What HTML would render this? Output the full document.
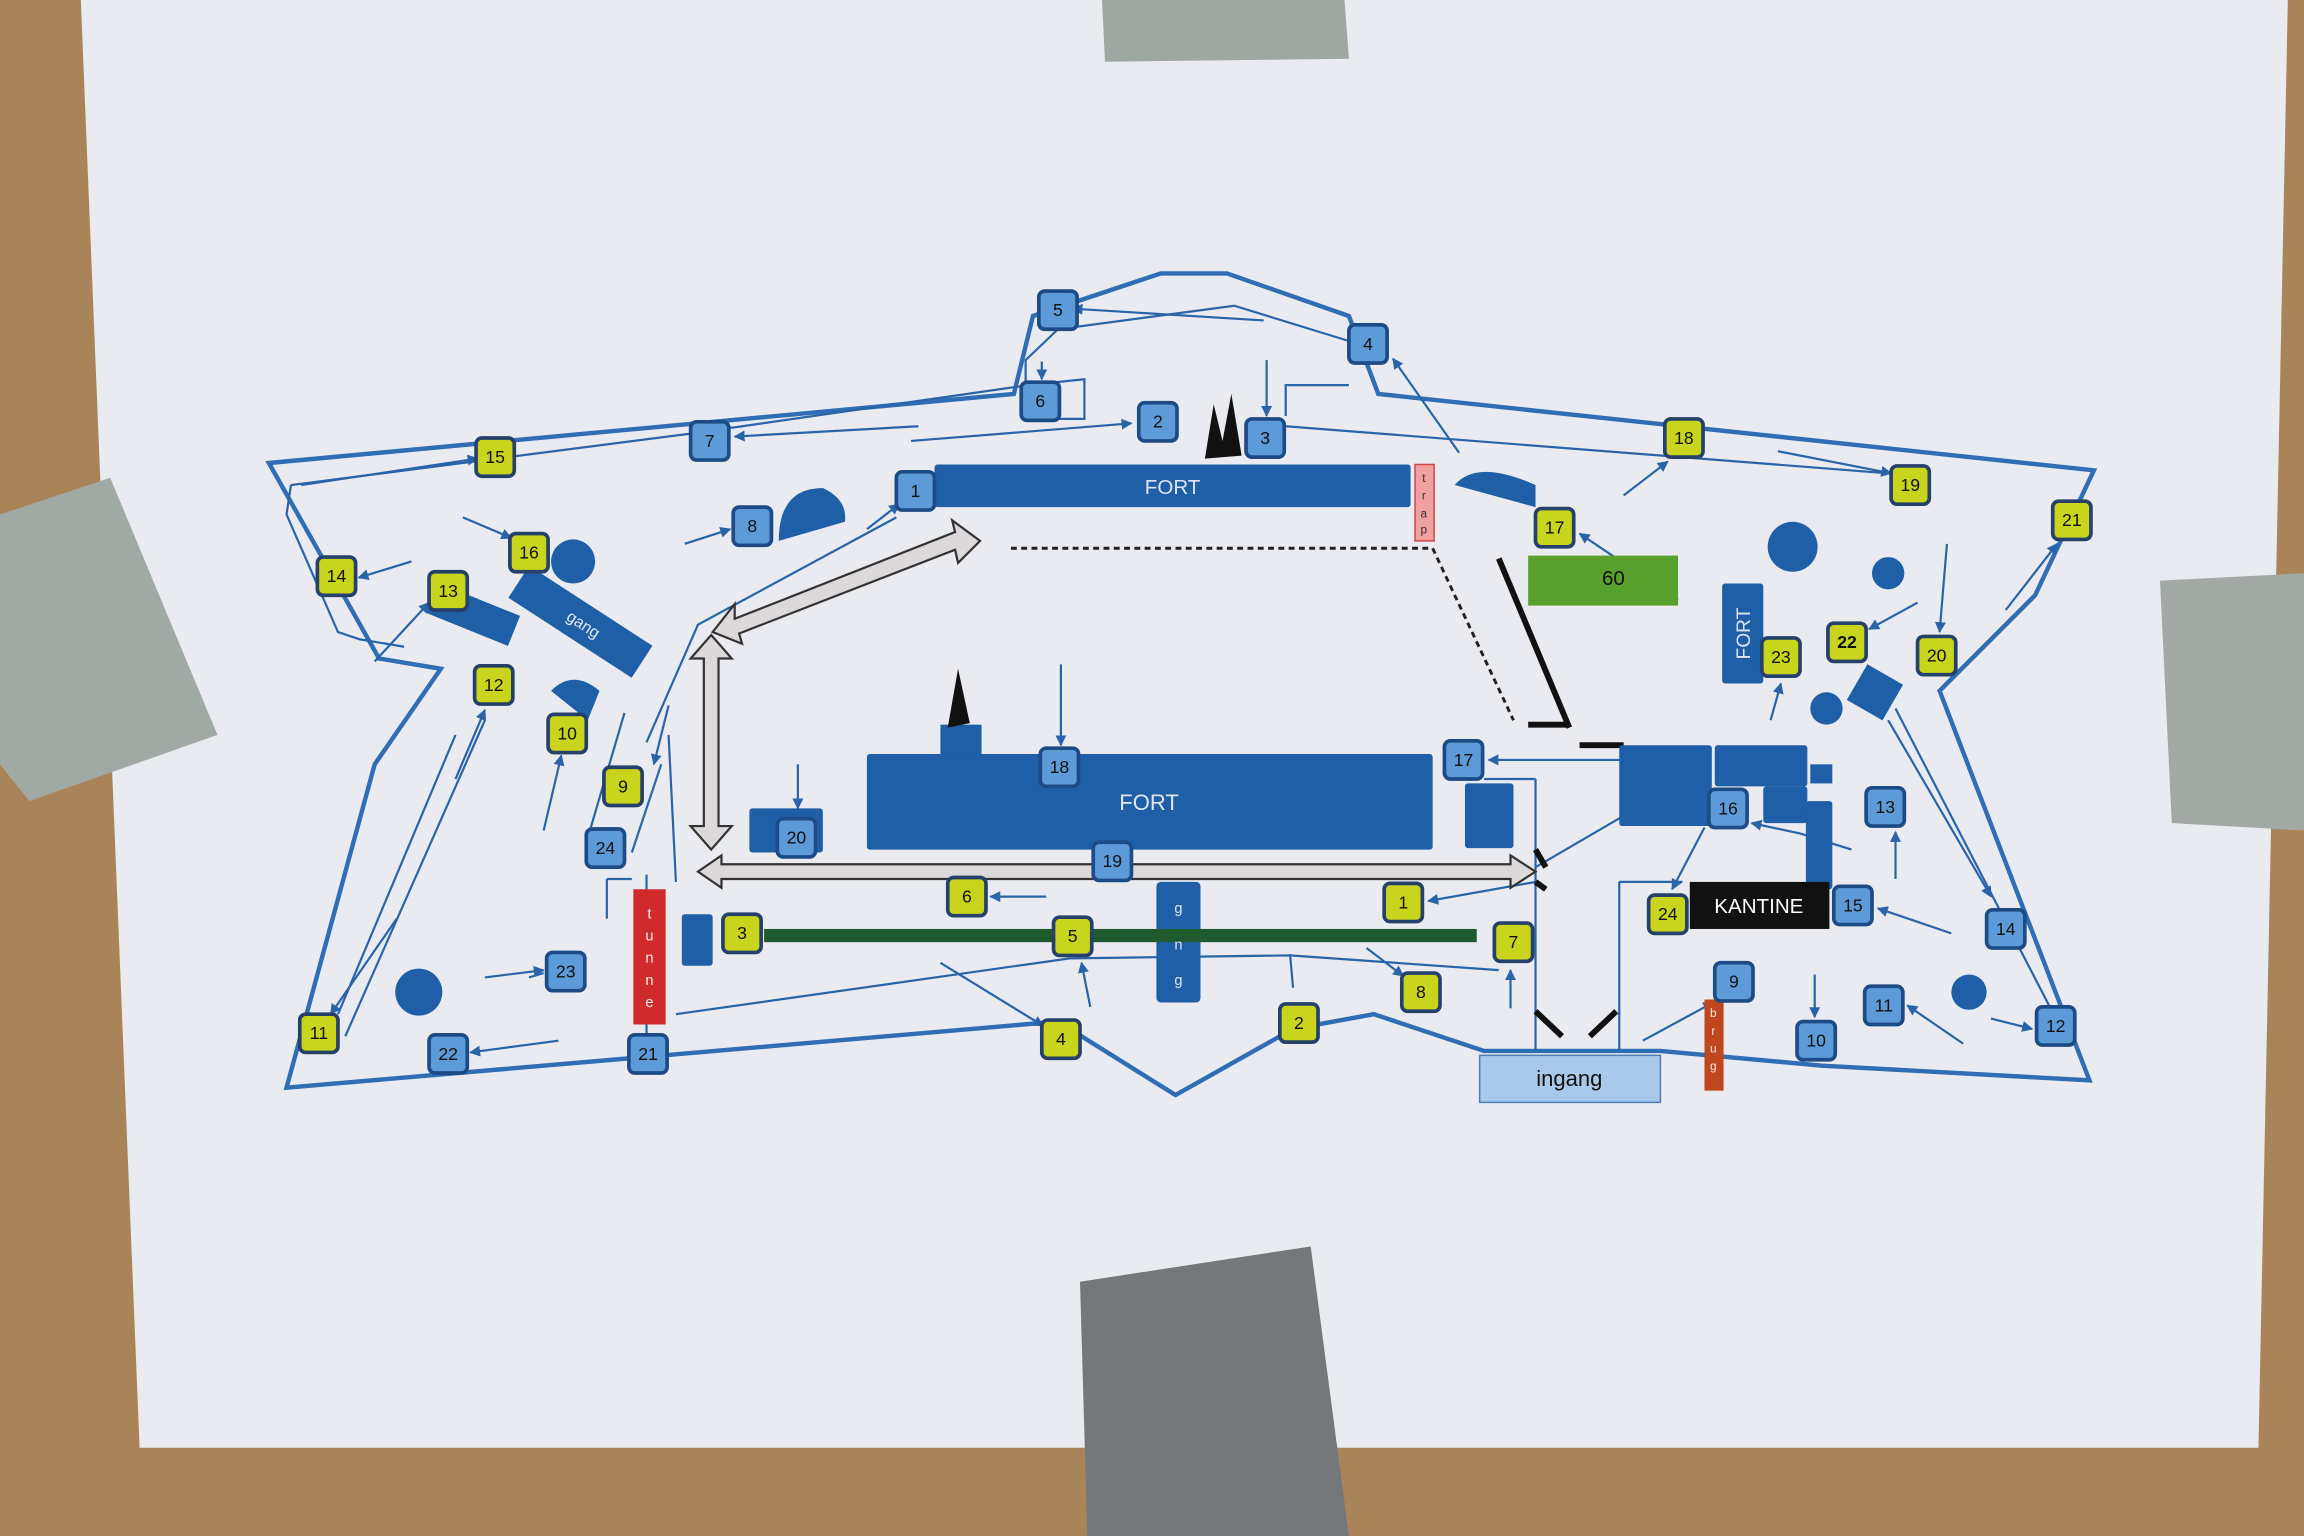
<!DOCTYPE html>
<html><head><meta charset="utf-8"><style>html,body{margin:0;padding:0;background:#a98458;}svg{display:block}</style></head>
<body>
<svg width="2304" height="1536" viewBox="0 0 1568 1045" preserveAspectRatio="none" xmlns="http://www.w3.org/2000/svg" font-family="Liberation Sans, sans-serif">
<defs>
<marker id="ah" viewBox="0 0 10 10" refX="9" refY="5" markerWidth="5" markerHeight="5" orient="auto"><path d="M0,0L10,5L0,10z" fill="#2a64a8"/></marker>
</defs>
<rect width="1568" height="1045" fill="#a98458"/>
<polygon points="55,0 1557,0 1537,985 95,985" fill="#e9ebf0"/>
<!-- tapes -->
<polygon points="750,0 915,0 918,40 752,42" fill="#9fa7a3"/>
<polygon points="0,350 75,325 148,500 20,545 0,520" fill="#a1a9a5"/>
<polygon points="1470,395 1568,390 1568,565 1478,560" fill="#a3aaa6"/>
<polygon points="735,872 892,848 918,1045 740,1045" fill="#74787a"/>
<!-- outline -->
<path d="M183,315 L690,268 L703,215 L790,186 L835,186 L918,215 L938,268 L1425,320 L1385,405 L1320,470 L1422,735 L1240,725 L1130,715 L1010,715 L935,690 L880,700 L800,745 L720,695 L195,740 L255,520 L300,455 L258,448 Z" fill="none" stroke="#2f6db5" stroke-width="3"/>
<!-- thin route lines -->
<g stroke="#2a64a8" stroke-width="1.5" fill="none">
<path d="M198,330 L470,295 L700,262 L738,258 L738,285 L698,285 L698,245 L720,224 L840,208 L918,232"/>
<path d="M860,218 L730,210" marker-end="url(#ah)"/>
<path d="M625,290 L500,297" marker-end="url(#ah)"/>
<path d="M620,300 L770,288" marker-end="url(#ah)"/>
<path d="M862,245 L862,283" marker-end="url(#ah)"/>
<path d="M709,246 L709,258" marker-end="url(#ah)"/>
<path d="M875,283 L875,262 L918,262"/>
<path d="M875,290 L1285,322"/>
<path d="M993,308 L948,244" marker-end="url(#ah)"/>
<path d="M1105,337 L1135,314" marker-end="url(#ah)"/>
<path d="M1210,307 L1287,322" marker-end="url(#ah)"/>
<path d="M1365,415 L1400,370" marker-end="url(#ah)"/>
<path d="M1142,408 L1075,363" marker-end="url(#ah)"/>
<path d="M198,330 L195,350 L230,430 L245,435 L275,440"/>
<path d="M205,330 L325,312" marker-end="url(#ah)"/>
<path d="M315,352 L348,366" marker-end="url(#ah)"/>
<path d="M280,382 L244,393" marker-end="url(#ah)"/>
<path d="M255,450 L292,410" marker-end="url(#ah)"/>
<path d="M466,370 L497,360" marker-end="url(#ah)"/>
<path d="M590,360 L612,343" marker-end="url(#ah)"/>
<path d="M610,352 L475,425 L440,505"/>
<path d="M310,530 L330,483" marker-end="url(#ah)"/>
<path d="M370,565 L382,514" marker-end="url(#ah)"/>
<path d="M425,485 L400,570"/>
<path d="M455,480 L445,520" marker-end="url(#ah)"/>
<path d="M455,500 L460,600"/>
<path d="M430,580 L450,520"/>
<path d="M413,598 L413,625 M413,598 L430,598"/>
<path d="M270,625 L225,690" marker-end="url(#ah)"/>
<path d="M230,690 L310,500 M235,705 L330,490"/>
<path d="M360,665 L370,662 M330,665 L370,660" marker-end="url(#ah)"/>
<path d="M380,708 L320,716" marker-end="url(#ah)"/>
<path d="M440,595 L440,705"/>
<path d="M543,520 L543,550" marker-end="url(#ah)"/>
<path d="M722,452 L722,507" marker-end="url(#ah)"/>
<path d="M712,610 L674,610" marker-end="url(#ah)"/>
<path d="M640,655 L710,698" marker-end="url(#ah)"/>
<path d="M742,685 L736,655" marker-end="url(#ah)"/>
<path d="M460,690 L728,652 L878,650 L880,672 M878,650 L1020,660"/>
<path d="M930,645 L955,664" marker-end="url(#ah)"/>
<path d="M1028,686 L1028,660" marker-end="url(#ah)"/>
<path d="M1045,600 L972,613" marker-end="url(#ah)"/>
<path d="M1045,530 L1045,715 M1045,530 L1010,530"/>
<path d="M1105,517 L1013,517" marker-end="url(#ah)"/>
<path d="M1105,555 L1045,590"/>
<path d="M1102,600 L1102,715 M1102,600 L1145,600"/>
<path d="M1160,563 L1138,605" marker-end="url(#ah)"/>
<path d="M1118,708 L1166,682" marker-end="url(#ah)"/>
<path d="M1225,567 L1192,560" marker-end="url(#ah)"/>
<path d="M1260,578 L1225,567"/>
<path d="M1290,598 L1290,566" marker-end="url(#ah)"/>
<path d="M1328,635 L1278,618" marker-end="url(#ah)"/>
<path d="M1235,663 L1235,692" marker-end="url(#ah)"/>
<path d="M1336,710 L1298,684" marker-end="url(#ah)"/>
<path d="M1355,693 L1383,700" marker-end="url(#ah)"/>
<path d="M1285,490 L1355,610" marker-end="url(#ah)"/>
<path d="M1290,482 L1395,685"/>
<path d="M1305,410 L1272,428" marker-end="url(#ah)"/>
<path d="M1325,370 L1320,430" marker-end="url(#ah)"/>
<path d="M1205,490 L1212,465" marker-end="url(#ah)"/>
</g>
<!-- dashed -->
<path d="M688,373 L975,373 L1030,490" fill="none" stroke="#222" stroke-width="2" stroke-dasharray="4,3"/>
<!-- black walls -->
<g stroke="#111" stroke-width="4" fill="none">
<path d="M1020,380 L1068,495"/><path d="M1040,493 L1068,493"/><path d="M1075,507 L1105,507"/>
<path d="M1045,578 L1052,590 M1045,600 L1052,605"/>
<path d="M1045,688 L1063,705"/><path d="M1100,688 L1082,705"/>
</g>
<!-- grey double arrows -->
<g fill="#ddd8da" stroke="#333" stroke-width="1.5">
<polygon points="485,430 500,411 500,421 650,362 648,354 667,368 652,383 650,374 503,431 505,438"/>
<polygon points="484,432 498,448 489,448 489,562 498,562 484,578 470,562 479,562 479,448 470,448"/>
<polygon points="475,593 491,582 491,588 1028,588 1028,582 1045,593 1028,604 1028,598 491,598 491,604"/>
</g>
<!-- buildings -->
<g fill="#1e5fa8">
<rect x="636" y="316" width="324" height="29" rx="2"/>
<rect x="590" y="513" width="385" height="65" rx="2"/>
<rect x="997" y="533" width="33" height="44" rx="2"/>
<rect x="1102" y="507" width="63" height="55" rx="2"/>
<rect x="1167" y="507" width="63" height="28" rx="2"/>
<rect x="1200" y="535" width="30" height="25" rx="2"/>
<rect x="1232" y="520" width="15" height="13"/>
<rect x="1229" y="545" width="18" height="60" rx="2"/>
<rect x="1172" y="397" width="28" height="68" rx="2"/>
<rect x="787" y="600" width="30" height="82" rx="3"/>
<rect x="464" y="622" width="21" height="35" rx="2"/>
<rect x="510" y="550" width="50" height="30" rx="2"/>
<rect x="640" y="493" width="28" height="24"/>
<rect x="345" y="410" width="100" height="26" transform="rotate(33 395 423)"/>
<rect x="292" y="407" width="60" height="22" transform="rotate(22 322 418)"/>
<rect x="1262" y="457" width="28" height="28" transform="rotate(30 1276 471)"/>
<circle cx="390" cy="382" r="15"/><circle cx="285" cy="675" r="16"/><circle cx="1220" cy="372" r="17"/>
<circle cx="1285" cy="390" r="11"/><circle cx="1243" cy="482" r="11"/><circle cx="1340" cy="675" r="12"/>
<path d="M530,368 Q530,332 560,332 Q577,340 575,355 Z"/>
<path d="M990,330 Q1005,312 1045,330 L1045,345 Z"/>
<path d="M375,470 Q390,455 408,470 L400,490 Z"/>
</g>
<g fill="#111"><path d="M820,312 L826,275 L832,300 L838,268 L845,310 Z"/><path d="M645,495 L652,455 L660,492 Z"/></g>
<rect x="520" y="632" width="485" height="9" fill="#1f5a2e"/>
<rect x="1040" y="378" width="102" height="34" fill="#5aa02c"/>
<text x="1098" y="398" font-size="14" fill="#111" text-anchor="middle">60</text>
<rect x="1150" y="600" width="95" height="32" fill="#111"/>
<text x="1197" y="621" font-size="14" fill="#fff" text-anchor="middle">KANTINE</text>
<rect x="963" y="316" width="13" height="52" fill="#f0a0a0" stroke="#c44" stroke-width="1"/>
<text x="969" y="328" font-size="8" text-anchor="middle" fill="#333">t</text><text x="969" y="340" font-size="8" text-anchor="middle" fill="#333">r</text><text x="969" y="352" font-size="8" text-anchor="middle" fill="#333">a</text><text x="969" y="363" font-size="8" text-anchor="middle" fill="#333">p</text>
<rect x="431" y="605" width="22" height="92" fill="#d02a2a"/>
<text font-size="10" fill="#eee" text-anchor="middle"><tspan x="442" y="625">t</tspan><tspan x="442" y="640">u</tspan><tspan x="442" y="655">n</tspan><tspan x="442" y="670">n</tspan><tspan x="442" y="685">e</tspan></text>
<rect x="1160" y="680" width="13" height="62" fill="#c0461e"/>
<text font-size="8" fill="#eee" text-anchor="middle"><tspan x="1166" y="692">b</tspan><tspan x="1166" y="704">r</tspan><tspan x="1166" y="716">u</tspan><tspan x="1166" y="728">g</tspan></text>
<rect x="1007" y="718" width="123" height="32" fill="#a9c9ea" stroke="#4a7cb8"/>
<text x="1068" y="739" font-size="15" fill="#111" text-anchor="middle">ingang</text>
<g fill="#dfe6f0" text-anchor="middle">
<text x="798" y="336" font-size="14">FORT</text>
<text x="782" y="551" font-size="15">FORT</text>
<text x="1191" y="431" font-size="13" transform="rotate(-90 1191 431)">FORT</text>
<text x="395" y="428" font-size="11" transform="rotate(33 395 428)">gang</text>
<text font-size="10"><tspan x="802" y="621">g</tspan><tspan x="802" y="646">n</tspan><tspan x="802" y="670">g</tspan></text>
</g>
<!-- number boxes -->
<g font-size="12" text-anchor="middle" stroke-width="2.5">
<g fill="#5d9bd8" stroke="#1d4b85">
<rect x="707" y="198" width="26" height="26" rx="4"/><rect x="918" y="221" width="26" height="26" rx="4"/>
<rect x="695" y="260" width="26" height="26" rx="4"/><rect x="775" y="274" width="26" height="26" rx="4"/>
<rect x="848" y="285" width="26" height="26" rx="4"/><rect x="470" y="287" width="26" height="26" rx="4"/>
<rect x="610" y="321" width="26" height="26" rx="4"/><rect x="499" y="345" width="26" height="26" rx="4"/>
<rect x="399" y="564" width="26" height="26" rx="4"/><rect x="372" y="648" width="26" height="26" rx="4"/>
<rect x="292" y="704" width="26" height="26" rx="4"/><rect x="428" y="704" width="26" height="26" rx="4"/>
<rect x="529" y="557" width="26" height="26" rx="4"/><rect x="708" y="509" width="26" height="26" rx="4"/>
<rect x="744" y="573" width="26" height="26" rx="4"/><rect x="983" y="504" width="26" height="26" rx="4"/>
<rect x="1163" y="537" width="26" height="26" rx="4"/><rect x="1270" y="536" width="26" height="26" rx="4"/>
<rect x="1248" y="603" width="26" height="26" rx="4"/><rect x="1352" y="619" width="26" height="26" rx="4"/>
<rect x="1386" y="685" width="26" height="26" rx="4"/><rect x="1269" y="671" width="26" height="26" rx="4"/>
<rect x="1223" y="695" width="26" height="26" rx="4"/><rect x="1167" y="655" width="26" height="26" rx="4"/>
</g>
<g fill="#c9d41c" stroke="#27406a">
<rect x="1133" y="285" width="26" height="26" rx="4"/><rect x="1287" y="317" width="26" height="26" rx="4"/>
<rect x="1397" y="341" width="26" height="26" rx="4"/><rect x="324" y="298" width="26" height="26" rx="4"/>
<rect x="347" y="363" width="26" height="26" rx="4"/><rect x="216" y="379" width="26" height="26" rx="4"/>
<rect x="292" y="389" width="26" height="26" rx="4"/><rect x="323" y="453" width="26" height="26" rx="4"/>
<rect x="373" y="486" width="26" height="26" rx="4"/><rect x="411" y="522" width="26" height="26" rx="4"/>
<rect x="204" y="690" width="26" height="26" rx="4"/><rect x="645" y="597" width="26" height="26" rx="4"/>
<rect x="492" y="622" width="26" height="26" rx="4"/><rect x="717" y="624" width="26" height="26" rx="4"/>
<rect x="709" y="694" width="26" height="26" rx="4"/><rect x="871" y="683" width="26" height="26" rx="4"/>
<rect x="954" y="662" width="26" height="26" rx="4"/><rect x="942" y="601" width="26" height="26" rx="4"/>
<rect x="1017" y="628" width="26" height="26" rx="4"/><rect x="1045" y="346" width="26" height="26" rx="4"/>
<rect x="1199" y="434" width="26" height="26" rx="4"/><rect x="1244" y="424" width="26" height="26" rx="4"/>
<rect x="1305" y="433" width="26" height="26" rx="4"/><rect x="1122" y="609" width="26" height="26" rx="4"/>
</g>
<g fill="#111" stroke="none">
<text x="720" y="215">5</text><text x="931" y="238">4</text><text x="708" y="277">6</text><text x="788" y="291">2</text>
<text x="861" y="302">3</text><text x="483" y="304">7</text><text x="623" y="338">1</text><text x="512" y="362">8</text>
<text x="412" y="581">24</text><text x="385" y="665">23</text><text x="305" y="721">22</text><text x="441" y="721">21</text>
<text x="542" y="574">20</text><text x="721" y="526">18</text><text x="757" y="590">19</text><text x="996" y="521">17</text>
<text x="1176" y="554">16</text><text x="1283" y="553">13</text><text x="1261" y="620">15</text><text x="1365" y="636">14</text>
<text x="1399" y="702">12</text><text x="1282" y="688">11</text><text x="1236" y="712">10</text><text x="1180" y="672">9</text>
<text x="1146" y="302">18</text><text x="1300" y="334">19</text><text x="1410" y="358">21</text><text x="337" y="315">15</text>
<text x="360" y="380">16</text><text x="229" y="396">14</text><text x="305" y="406">13</text><text x="336" y="470">12</text>
<text x="386" y="503">10</text><text x="424" y="539">9</text><text x="217" y="707">11</text><text x="658" y="614">6</text>
<text x="505" y="639">3</text><text x="730" y="641">5</text><text x="722" y="711">4</text><text x="884" y="700">2</text>
<text x="967" y="679">8</text><text x="955" y="618">1</text><text x="1030" y="645">7</text><text x="1058" y="363">17</text>
<text x="1212" y="451">23</text><text x="1257" y="441" font-weight="bold">22</text><text x="1318" y="450">20</text><text x="1135" y="626">24</text>
</g>
</g>
</svg>
</body></html>
